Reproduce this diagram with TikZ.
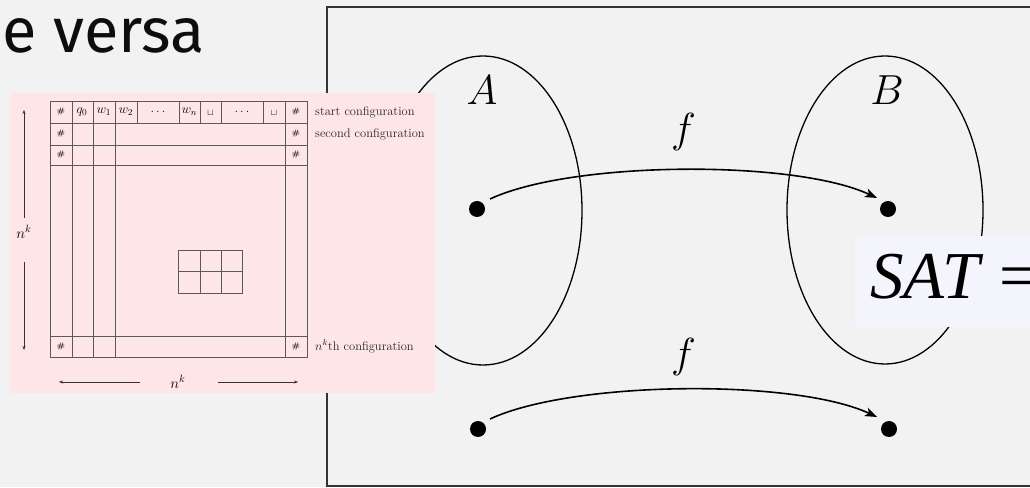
\RequirePackage{fix-cm}
\documentclass[tikz,border=0pt]{standalone}
\usepackage{fontspec}
\setsansfont{Fira Sans}
\newfontfamily\satfont[UprightFont={Liberation Serif},ItalicFont={Liberation Serif Italic}]{Liberation Serif}
\usetikzlibrary{arrows.meta,positioning,calc}
\definecolor{slide}{HTML}{F2F2F2}
\definecolor{blush}{HTML}{FFE6E6}
\definecolor{lav}{HTML}{F4F4FC}
\definecolor{frame}{HTML}{333333}
\definecolor{rule}{HTML}{5A5A5A}
\tikzset{cell/.style={inner sep=0pt,font=\fontsize{13}{13}\selectfont},hash/.style={inner sep=0pt,font=\fontsize{8}{8}\selectfont\bfseries},conf/.style={anchor=west,inner sep=0pt,font=\fontsize{12.5}{12.5}\selectfont,text=black!85},dim/.style={-{Stealth[length=4pt,width=3pt]},line width=0.5pt,draw=black!80},gridline/.style={draw=rule,line width=0.6pt},dot/.style={circle,fill=black,inner sep=0pt,minimum size=16pt},fmap/.style={-{Stealth[length=12pt,width=9pt,inset=3pt]},line width=1.6pt},setring/.style={line width=1.3pt},big/.style={inner sep=0pt,font=\fontsize{42}{42}\selectfont}}

\begin{document}
\begin{tikzpicture}[x=1pt,y=1pt]
\useasboundingbox (0,0) rectangle (1030,487);
\clip (0,0) rectangle (1030,487);
\fill[slide] (0,0) rectangle (1030,487);
\node[anchor=base west,inner sep=0pt,font=\sffamily\fontsize{63}{63}\selectfont,text=black!95] (title) at (2,434) {e versa};
% mapping A to B
\draw[frame,line width=1.5pt] (327,1) rectangle (1045,480);
\draw[setring] (483,276.5) ellipse [x radius=99,y radius=154.5];
\draw[setring] (885,277) ellipse [x radius=98,y radius=154];
\node[big] (A) at (482,397) {$A$};
\node[big] (B) at (887,397) {$B$};
\node[dot] (a1) at (477,278) {};
\node[dot] (b1) at (888,278) {};
\node[dot] (a2) at (478,58) {};
\node[dot] (b2) at (889,58) {};
\draw[fmap] ([shift={(13,10)}]a1.center) to[out=25,in=155,looseness=0.6] node[big,pos=0.5,above=18pt] (f1) {$f$} ([shift={(-11,11)}]b1.center);
\draw[fmap] ([shift={(12,10)}]a2.center) to[out=25,in=155,looseness=0.6] node[big,pos=0.5,above=13pt] (f2) {$f$} ([shift={(-12,12)}]b2.center);
\node[fill=lav,inner sep=0pt,minimum width=190pt,minimum height=91pt,anchor=north west] (satbox) at (855,251) {};
\node[anchor=base west,inner sep=0pt,font=\fontsize{67}{67}\selectfont] (sat) at (870,188) {\satfont\itshape SAT\upshape\hspace{0.3em}=};
% tableau picture
\node[fill=blush,inner sep=0pt,minimum width=425pt,minimum height=300pt,anchor=south west] (tableau) at (10,94) {};
\draw[gridline] (50,130) rectangle (307,386);
\foreach \y in {364,342,322,151} \draw[gridline] (50,\y) -- (307,\y);
\foreach \x in {72,93,115,285} \draw[gridline] (\x,130) -- (\x,386);
\foreach \x in {137,179,200,221,263} \draw[gridline] (\x,364) -- (\x,386);
\draw[gridline] (178,194) rectangle (242,237);
\draw[gridline] (178,215.5) -- (242,215.5);
\foreach \x in {200,221} \draw[gridline] (\x,194) -- (\x,237);
\foreach \x/\t [count=\i] in {82/q_0,104/w_1,126/w_2,158/\dots,189.5/w_n,242/\dots} \node[cell] (c\i) at (\x,375) {$\t$};
\foreach \x [count=\i] in {210.5,274} \node[inner sep=0pt,font=\fontsize{9}{9}\selectfont] (u\i) at (\x,374) {$\sqcup$};
\foreach \y [count=\i] in {375,353,332,140.5} {\node[hash] (hl\i) at (61,\y) {\#}; \node[hash] (hr\i) at (296,\y) {\#};}
\node[conf] (start) at (315,375) {start configuration};
\node[conf] (second) at (315,353) {second configuration};
\node[conf] (last) at (315,140.5) {$n^k$th configuration};
\node[inner sep=0pt,font=\fontsize{15}{15}\selectfont] (hk) at (24,255) {$n^k$};
\node[inner sep=0pt,font=\fontsize{15}{15}\selectfont] (wk) at (178,105) {$n^k$};
\coordinate (ltop) at (24,377);
\coordinate (lbot) at (24,137);
\coordinate (bl) at (59,105);
\coordinate (br) at (298,105);
\draw[dim] ([yshift=14pt]hk.center) -- (ltop);
\draw[dim] ([yshift=-30pt]hk.center) -- (lbot);
\draw[dim] ([xshift=-38pt]wk.center) -- (bl);
\draw[dim] ([xshift=40pt]wk.center) -- (br);
\end{tikzpicture}
\end{document}
